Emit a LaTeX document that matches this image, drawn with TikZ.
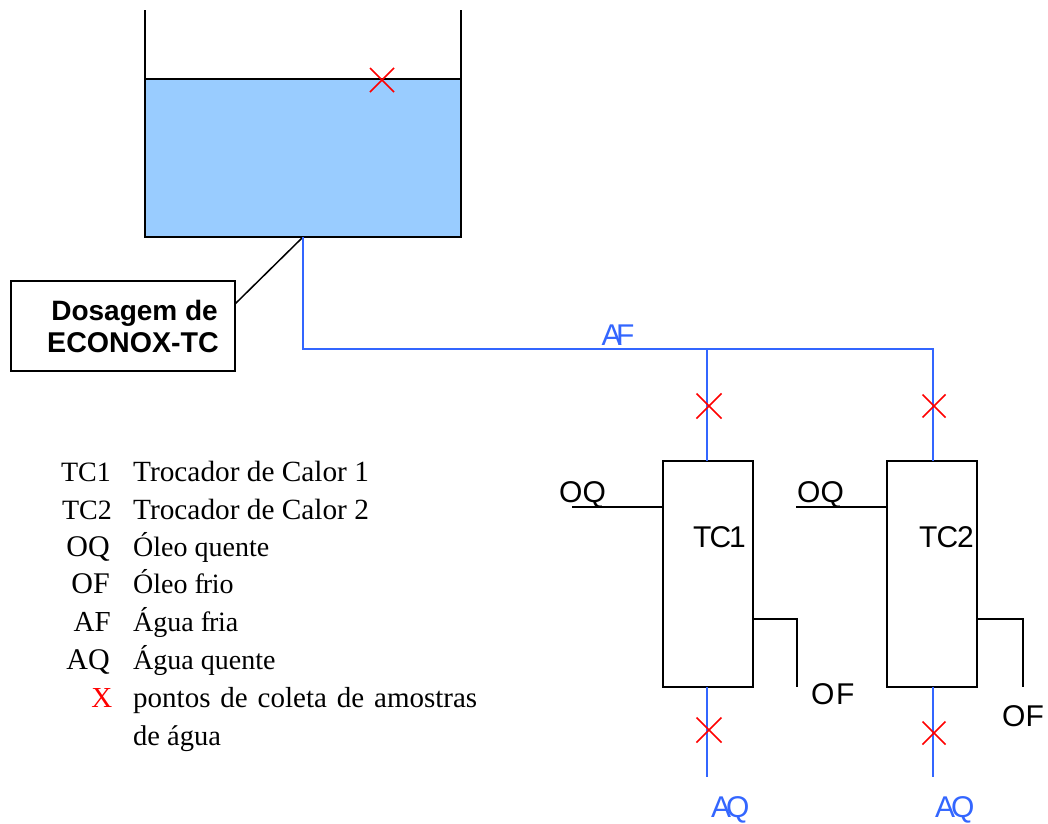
\documentclass[tikz,border=0pt]{standalone}
\usepackage{fontspec}
\setmainfont{Liberation Serif}
\setsansfont{Liberation Sans}
\definecolor{water}{HTML}{99CCFF}
\definecolor{pipe}{HTML}{3366FF}
\definecolor{mark}{HTML}{FF0000}
\tikzset{
  blk/.style={draw=black,line width=2pt},
  pipeline/.style={draw=pipe,line width=2pt},
  crossmark/.style={draw=mark,line width=1.5pt},
  exch/.style={blk,fill=white,rectangle,anchor=north west,inner sep=0pt,outer sep=0pt,minimum width=90pt,minimum height=226pt},
  lab/.style={font=\sffamily\fontsize{30}{32}\selectfont,anchor=base west,inner sep=0pt,text=black},
  bluelab/.style={lab,text=pipe},
  legkey/.style={font=\rmfamily\fontsize{#1}{32}\selectfont,anchor=base east,inner sep=0pt},
  legtxt/.style={font=\rmfamily\fontsize{#1}{32}\selectfont,anchor=base west,inner sep=0pt},
  callout/.style={font=\sffamily\bfseries\fontsize{#1}{32}\selectfont,anchor=base east,inner sep=0pt},
}
\newcommand{\crossat}[3]{\draw[crossmark] (#1-#3,#2-#3) -- (#1+#3,#2+#3) (#1-#3,#2+#3) -- (#1+#3,#2-#3);}
\begin{document}
\begin{tikzpicture}[x=1pt,y=-1pt]
\useasboundingbox (0,0) rectangle (1048,823);
% tank
\fill[water] (145,79) rectangle (461,237);
\coordinate (tankTL) at (145,10);
\coordinate (tankTR) at (461,10);
\coordinate (waterL) at (145,79);
\coordinate (waterR) at (461,79);
\coordinate (tankBL) at (145,237);
\coordinate (tankBR) at (461,237);
\coordinate (outlet) at (303,237);
\draw[blk,line join=miter] (tankTL) -- (tankBL) -- (tankBR) -- (tankTR);
\draw[blk] (waterL) -- (waterR);
% callout
\node[blk,rectangle,anchor=north west,inner sep=0pt,outer sep=0pt,minimum width=224pt,minimum height=90pt] (dose) at (11,281) {};
\coordinate (doseTap) at (235,304);
\draw[blk,line width=1.5pt] (doseTap) -- (outlet);
\node[callout=28] (dosea) at (218,320.5) {Dosagem de};
\node[callout=28.6] (doseb) at (219,352.5) {ECONOX-TC};
% exchangers
\node[exch] (tc1) at (663,461) {};
\node[exch] (tc2) at (887,461) {};
% water piping
\coordinate (corner) at (303,349);
\coordinate (tee) at (707,349);
\coordinate (end) at (933,349);
\coordinate (in1) at (707,461);
\coordinate (in2) at (933,461);
\coordinate (out1) at (707,687);
\coordinate (out2) at (933,687);
\coordinate (aq1) at (707,777);
\coordinate (aq2) at (933,777);
\draw[pipeline,line join=miter] (outlet) -- (corner) -- (end) -- (in2);
\draw[pipeline] (tee) -- (in1);
\draw[pipeline] (out1) -- (aq1);
\draw[pipeline] (out2) -- (aq2);
% oil lines
\coordinate (oq1) at (572,507);
\coordinate (oq1e) at (663,507);
\coordinate (oq2) at (796,507);
\coordinate (oq2e) at (887,507);
\draw[blk] (oq1) -- (oq1e);
\draw[blk] (oq2) -- (oq2e);
\coordinate (of1s) at (753,618.5);
\coordinate (of1c) at (797,618.5);
\coordinate (of1e) at (797,687);
\coordinate (of2s) at (977,618.5);
\coordinate (of2c) at (1023,618.5);
\coordinate (of2e) at (1023,687);
\draw[blk,line join=miter] (of1s) -- (of1c) -- (of1e);
\draw[blk,line join=miter] (of2s) -- (of2c) -- (of2e);
% crosses
\crossat{382}{80}{12}
\crossat{709}{406}{12.5}
\crossat{934}{406}{11.5}
\crossat{709}{730}{12.5}
\crossat{934}{733}{11.5}
% diagram labels
\node[bluelab] (lafa) at (601.5,345) {A\kern-5.5pt F};
\node[lab] (loq1) at (559,502) {OQ};
\node[lab] (loq2) at (797,502) {OQ};
\node[lab] (ltc1) at (693,547) {T\kern-2pt C\kern-2pt 1};
\begin{scope}
\clip (880,510) rectangle (972,560);
\node[lab] (ltc2) at (919,547) {T\kern-1pt C\kern-1pt 2};
\end{scope}
\node[lab] (lof1) at (811,704) {O\kern1.5pt F};
\node[lab] (lof2) at (1002,726) {OF};
\node[bluelab] (laq1) at (711,817) {A\kern-5pt Q};
\node[bluelab] (laq2) at (935,817) {A\kern-4pt Q};
% legend
\node[legkey=28] (k1) at (111,481) {TC1};
\node[legtxt=29.3] (t1) at (133,481) {Trocador de Calor 1};
\node[legkey=28] (k2) at (112,519) {TC2};
\node[legtxt=29.3] (t2) at (133,519) {Trocador de Calor 2};
\node[legkey=30] (k3) at (110,556) {OQ};
\node[legtxt=28] (t3) at (133,556) {Óleo quente};
\node[legkey=30] (k4) at (110,593) {OF};
\node[legtxt=28] (t4) at (133,593) {Óleo f\kern-1pt r\kern-.5pt io};
\node[legkey=29] (k5) at (111,631) {AF};
\node[legtxt=28] (t5) at (133,631) {Água f\kern-1pt r\kern-.5pt ia};
\node[legkey=30] (k6) at (110,669) {AQ};
\node[legtxt=28] (t6) at (133,669) {Água quente};
\node[legkey=29,text=mark] (k7) at (112.5,707) {X};
\node[legtxt=29] (t7) at (133,707) {\hbox to 344pt{pontos\hfill de\hfill coleta\hfill de\hfill amostras}};
\node[legtxt=28.5] (t8) at (133,745) {de água};
\end{tikzpicture}
\end{document}
